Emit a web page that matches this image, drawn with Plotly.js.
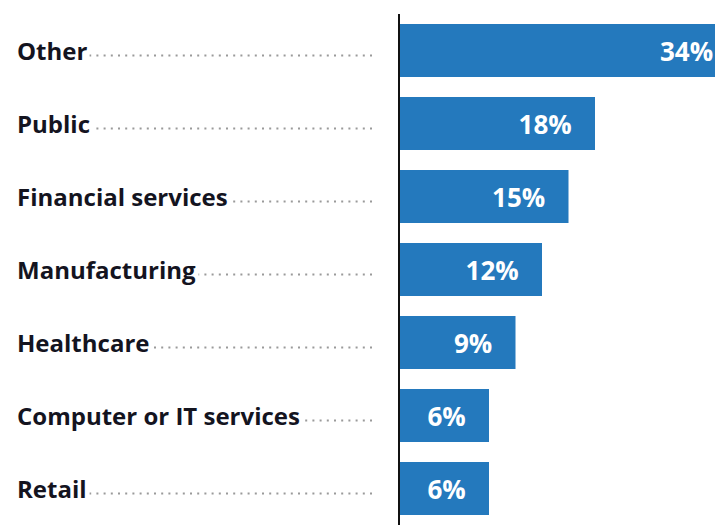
<!DOCTYPE html>
<html>
<head>
<meta charset="utf-8">
<script src="https://cdn.plot.ly/plotly-3.0.1.min.js"></script>
<style>
  html, body { margin: 0; padding: 0; background: #ffffff; }
  #chart { width: 715px; height: 525px; }
</style>
</head>
<body>
<div id="chart"></div>
<script>
// ---- data ----
const categories = ['Other', 'Public', 'Financial services', 'Manufacturing', 'Healthcare', 'Computer or IT services', 'Retail'];
const values = [34, 18, 15, 12, 9, 6, 6];
const valueLabels = ['34%', '18%', '15%', '12%', '9%', '6%', '6%'];

// ---- styling / geometry ----
const W = 715, H = 525;
const ML = 400, MR = 0, MT = 14, MB = 0;
const PLOT_W = W - ML - MR;
const PAD = 4.075;          // visual lead-in of each bar before zero (axis units)
const X_MAX = 31.585;
const BAR_COLOR = '#2479bd';
const NBSP = '\u00a0';

function pxToPaper(px) { return (px - ML) / PLOT_W; }

const mainTrace = {
  type: 'bar',
  orientation: 'h',
  y: categories,
  x: values,
  text: valueLabels.map(t => t + NBSP + NBSP + NBSP),
  textposition: 'inside',
  insidetextanchor: 'end',
  constraintext: 'none',
  textfont: { family: 'Open Sans', size: 26, color: '#ffffff', weight: 700 },
  marker: { color: BAR_COLOR, line: { width: 0 } },
  hoverinfo: 'none',
  cliponaxis: true
};

// lead-in segment (same colour) from the axis line to zero
const padTrace = {
  type: 'bar',
  orientation: 'h',
  y: categories,
  x: categories.map(() => -(PAD + 0.4)),
  base: 0.4,
  marker: { color: BAR_COLOR, line: { width: 0 } },
  hoverinfo: 'none',
  textposition: 'none'
};

const shapes = categories.map((c, i) => ({
  type: 'line',
  xref: 'paper', yref: 'y',
  x0: pxToPaper(372), x1: pxToPaper(20),
  y0: i + 5 / 73, y1: i + 5 / 73,
  line: { color: '#9a9a9a', width: 2, dash: '2px,5.2px' },
  layer: 'below'
}));

const annotations = categories.map((c, i) => ({
  xref: 'paper', yref: 'y',
  x: pxToPaper(17 - 3), xanchor: 'left',
  y: i, yanchor: 'middle',
  text: c,
  showarrow: false,
  bgcolor: '#ffffff',
  borderpad: 2,
  borderwidth: 1,
  bordercolor: 'rgba(0,0,0,0)',
  font: { family: 'Open Sans', size: 24, color: '#14141f', weight: 700 }
}));

const layout = {
  width: W, height: H,
  margin: { l: ML, r: MR, t: MT, b: MB, pad: 0 },
  paper_bgcolor: '#ffffff',
  plot_bgcolor: '#ffffff',
  barmode: 'overlay',
  bargap: 0.274,
  showlegend: false,
  xaxis: { range: [-PAD, X_MAX], visible: false, zeroline: false, showgrid: false, fixedrange: true },
  yaxis: {
    type: 'category',
    categoryorder: 'array', categoryarray: categories,
    range: [6.5, -0.5],
    showline: true, linecolor: '#111111', linewidth: 2,
    showticklabels: false, ticks: '', showgrid: false, zeroline: false,
    fixedrange: true
  },
  shapes: shapes,
  annotations: annotations
};

Plotly.newPlot('chart', [padTrace, mainTrace], layout, { displayModeBar: false, staticPlot: true });
</script>
</body>
</html>
